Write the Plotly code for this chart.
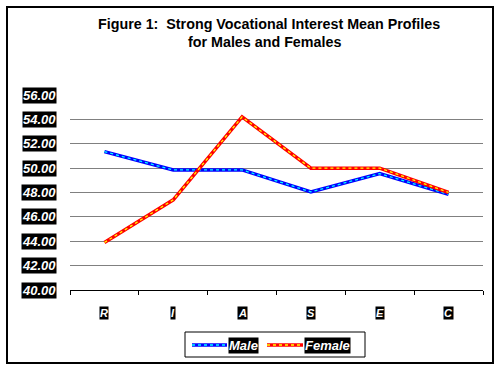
import plotly.graph_objects as go

categories = ["R", "I", "A", "S", "E", "C"]
male = [51.35, 49.85, 49.85, 48.05, 49.55, 47.85]
female = [43.9, 47.4, 54.2, 50.0, 50.0, 48.0]
y_ticks = [40, 42, 44, 46, 48, 50, 52, 54, 56]
y_tick_labels = [f"{v:.2f}" for v in y_ticks]
series_names = ["Male", "Female"]
title_lines = ["Figure 1:  Strong Vocational Interest Mean Profiles",
               "for Males and Females"]

W, H = 501, 370
L, R, T, B = 70, 18, 95, 80
PW, PH = W - L - R, H - T - B

def px_x(p):
    return (p - L) / PW

def px_y(p):
    return (H - B - p) / PH

FONT = "Arial, 'Liberation Sans', sans-serif"
MAIN = {"Male": "#0000ff", "Female": "#ff0000"}
DOTS = {"Male": "#00ffff", "Female": "#ffff00"}

fig = go.Figure()
for name, vals in zip(series_names, [male, female]):
    fig.add_trace(go.Scatter(x=categories, y=vals, mode="lines", name=name,
                             showlegend=False,
                             line=dict(color=MAIN[name], width=3.5)))
    fig.add_trace(go.Scatter(x=categories, y=vals, mode="lines", name=name,
                             showlegend=False, hoverinfo="skip",
                             line=dict(color=DOTS[name], width=1.3, dash="dot")))

annotations = []
for v, lab in zip(y_ticks, y_tick_labels):
    annotations.append(dict(x=px_x(57), xref="paper", y=v, yref="y",
                            text=f"<b><i>{lab}</i></b>", showarrow=False,
                            xanchor="right", yanchor="middle",
                            bgcolor="black", borderpad=0,
                            font=dict(family=FONT, size=13, color="white")))
for c in categories:
    annotations.append(dict(x=c, xref="x", y=px_y(313), yref="paper",
                            text=f"<b><i>{c}</i></b>", showarrow=False,
                            xanchor="center", yanchor="middle",
                            bgcolor="black", borderpad=0,
                            font=dict(family=FONT, size=11, color="white")))
for line_text, cx, cy in zip(title_lines, [268.5, 264.5], [23.5, 41.5]):
    annotations.append(dict(x=px_x(cx), xref="paper", y=px_y(cy), yref="paper",
                            text=f"<b>{line_text}</b>",
                            showarrow=False, xanchor="center", yanchor="middle",
                            font=dict(family=FONT, size=14.3, color="black")))

shapes = [
    dict(type="rect", xref="paper", yref="paper",
         x0=px_x(7), x1=px_x(493), y0=px_y(363), y1=px_y(7),
         line=dict(color="black", width=2), layer="below"),
    # legend frame
    dict(type="rect", xref="paper", yref="paper",
         x0=px_x(185), x1=px_x(365), y0=px_y(357), y1=px_y(332),
         line=dict(color="black", width=1), layer="above"),
]

# legend entries: sample line + white-on-black label
legend_layout = {"Male": (192, 227), "Female": (267, 303)}
LEG_Y = px_y(345)
for name in series_names:
    a, b = legend_layout[name]
    shapes.append(dict(type="line", xref="paper", yref="paper",
                       x0=px_x(a), x1=px_x(b), y0=LEG_Y, y1=LEG_Y,
                       line=dict(color=MAIN[name], width=3.5), layer="above"))
    shapes.append(dict(type="line", xref="paper", yref="paper",
                       x0=px_x(a), x1=px_x(b), y0=LEG_Y, y1=LEG_Y,
                       line=dict(color=DOTS[name], width=1.3, dash="dot"),
                       layer="above"))
    annotations.append(dict(x=px_x(b + 1), xref="paper", y=LEG_Y, yref="paper",
                            text=f"<b><i>{name}</i></b>", showarrow=False,
                            xanchor="left", yanchor="middle",
                            bgcolor="black", borderpad=0,
                            font=dict(family=FONT, size=13, color="white")))

fig.update_layout(
    width=W, height=H,
    margin=dict(l=L, r=R, t=T, b=B, pad=0),
    paper_bgcolor="white", plot_bgcolor="white",
    font=dict(family=FONT, color="black"),
    showlegend=False,
    annotations=annotations,
    shapes=shapes,
    xaxis=dict(type="category", range=[-0.5, 5.5], showgrid=False,
               showline=True, linecolor="black", linewidth=1,
               ticks="outside", tickson="boundaries", ticklen=4,
               tickcolor="black", showticklabels=False, zeroline=False,
               fixedrange=True),
    yaxis=dict(range=[40, 56], tickvals=y_ticks, showticklabels=False,
               showgrid=True, gridcolor="#808080", gridwidth=1,
               showline=False, ticks="", zeroline=False, fixedrange=True),
)

fig.write_html("out.html", config={"displayModeBar": False},
               post_script="document.body.style.margin='0';document.body.style.overflow='hidden';")
